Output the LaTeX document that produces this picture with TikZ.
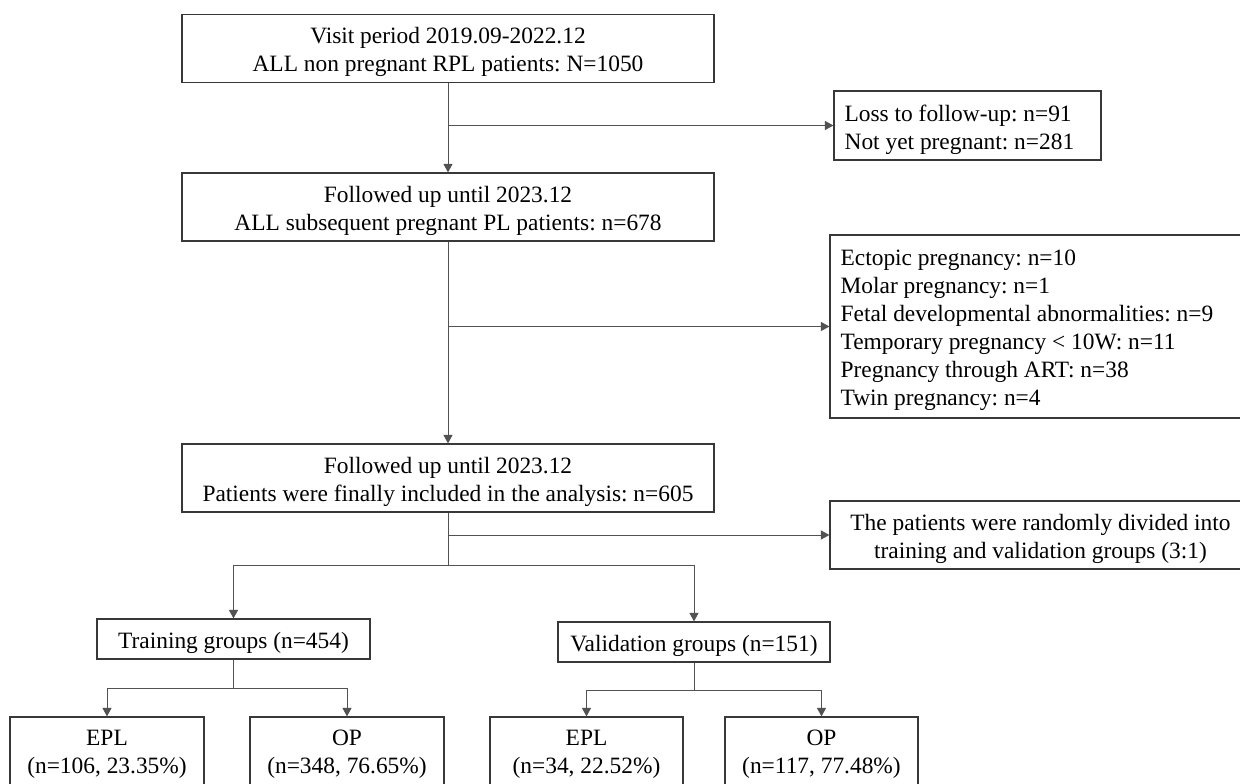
\documentclass[tikz,border=0pt]{standalone}
\usepackage{fontspec}
\setmainfont{Liberation Serif}
\usetikzlibrary{arrows.meta}
\begin{document}
\frenchspacing
\begin{tikzpicture}[x=1pt,y=-1pt,
  font=\fontsize{23.4}{28}\selectfont\frenchspacing,
  box/.style={draw=black!78, line width=1.2pt, inner sep=0pt},
  txt/.style={inner sep=0pt, align=center, text=black},
  ltxt/.style={inner sep=0pt, align=left, text=black},
  conn/.style={draw=black!68, line width=1pt},
  arr/.style={conn, -{Triangle[length=8.5pt,width=9pt]}}]
\useasboundingbox (0,0) rectangle (1240,784);
\clip (0,0) rectangle (1240,784);
\fill[white] (0,0) rectangle (1240,784);

% boxes
\node[box, minimum width=532pt, minimum height=68pt] (top) at (448,48.5) {};
\node[box, minimum width=267pt, minimum height=69pt] (loss) at (967.5,125.5) {};
\node[box, minimum width=532pt, minimum height=68pt] (second) at (448,207) {};
\node[box, minimum width=430pt, minimum height=183pt] (excl) at (1045,326.5) {};
\node[box, minimum width=532pt, minimum height=68pt] (third) at (448,478) {};
\node[box, minimum width=421pt, minimum height=68pt] (random) at (1040.5,535) {};
\node[box, minimum width=273pt, minimum height=40pt] (train) at (233.5,639) {};
\node[box, minimum width=272pt, minimum height=40pt] (val) at (694,642) {};
\node[box, minimum width=194pt, minimum height=68pt] (epl1) at (107,751) {};
\node[box, minimum width=194pt, minimum height=68pt] (op1) at (347,751) {};
\node[box, minimum width=193pt, minimum height=68pt] (epl2) at (586.5,751) {};
\node[box, minimum width=193pt, minimum height=68pt] (op2) at (821.5,751) {};

% texts
\node[txt] (topT) at ([yshift=-3.5pt]top.center)
  {Visit period 2019.09-2022.12\\ALL non pregnant RPL patients: N=1050};
\node[ltxt, anchor=west] (lossT) at ([xshift=11pt,yshift=-4pt]loss.west)
  {Loss to follow-up: n=91\\Not yet pregnant: n=281};
\node[txt] (secondT) at ([yshift=-3.5pt]second.center)
  {Followed up until 2023.12\\ALL subsequent pregnant PL patients: n=678};
\node[ltxt, anchor=west] (exclT) at ([xshift=11pt,yshift=-4pt]excl.west)
  {Ectopic pregnancy: n=10\\Molar pregnancy: n=1\\Fetal developmental abnormalities: n=9\\Temporary pregnancy < 10W: n=11\\Pregnancy through ART: n=38\\Twin pregnancy: n=4};
\node[txt] (thirdT) at ([yshift=-3.5pt]third.center)
  {Followed up until 2023.12\\Patients were finally included in the analysis: n=605};
\node[txt] (randomT) at ([yshift=-3.5pt]random.center)
  {The patients were randomly divided into\\training and validation groups (3:1)};
\node[txt] (trainT) at ([yshift=-3.5pt]train.center) {Training groups (n=454)};
\node[txt] (valT) at ([yshift=-3.5pt]val.center) {Validation groups (n=151)};
\node[txt] (epl1T) at ([yshift=-3.5pt]epl1.center) {EPL\\(n=106, 23.35\%)};
\node[txt] (op1T) at ([yshift=-3.5pt]op1.center) {OP\\(n=348, 76.65\%)};
\node[txt] (epl2T) at ([yshift=-3.5pt]epl2.center) {EPL\\(n=34, 22.52\%)};
\node[txt] (op2T) at ([yshift=-3.5pt]op2.center) {OP\\(n=117, 77.48\%)};

\coordinate (split) at (448,565);
\coordinate (tsplit) at (233.5,688);
\coordinate (vsplit) at (694,690);

\draw[arr] (top) -- (second);
\draw[arr] (top.south |- loss.west) -- (loss.west);
\draw[arr] (second) -- (third);
\draw[arr] (second.south |- excl.west) -- (excl.west);
\draw[conn] (third.south) -- (split);
\draw[arr] (third.south |- random.west) -- (random.west);
\draw[arr] (split) -| (train.north);
\draw[arr] (split) -| (val.north);
\draw[conn] (train.south) -- (tsplit);
\draw[arr] (tsplit) -| (epl1.north);
\draw[arr] (tsplit) -| (op1.north);
\draw[conn] (val.south) -- (vsplit);
\draw[arr] (vsplit) -| (epl2.north);
\draw[arr] (vsplit) -| (op2.north);
\end{tikzpicture}
\end{document}
